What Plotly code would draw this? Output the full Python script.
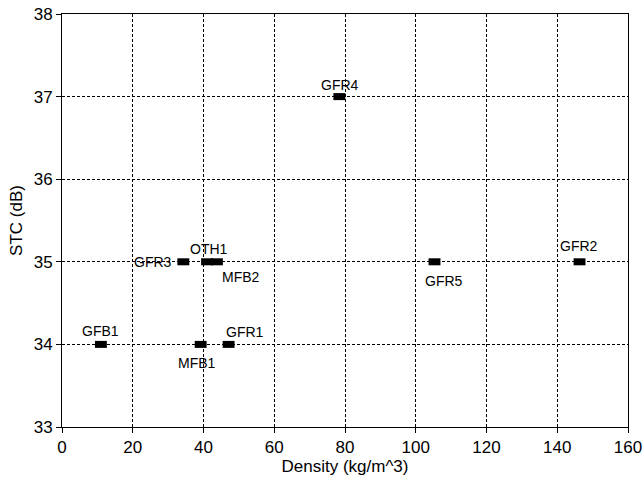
import plotly.graph_objects as go

names = ["GFB1", "MFB1", "GFR1", "GFR3", "OTH1", "MFB2", "GFR4", "GFR5", "GFR2"]
density = [11.0, 39.2, 47.1, 34.3, 41.0, 43.8, 78.4, 105.3, 146.3]
stc = [34, 34, 34, 35, 35, 35, 37, 35, 35]

x_ticks = [0, 20, 40, 60, 80, 100, 120, 140, 160]
y_ticks = [33, 34, 35, 36, 37, 38]

# label placement style (pixel offsets from marker)
label_style = {
    "GFB1": dict(xanchor="center", xshift=0, yshift=13),
    "MFB1": dict(xanchor="center", xshift=-4, yshift=-19),
    "GFR1": dict(xanchor="center", xshift=16, yshift=12),
    "GFR3": dict(xanchor="right", xshift=-9, yshift=0),
    "OTH1": dict(xanchor="center", xshift=2, yshift=13),
    "MFB2": dict(xanchor="center", xshift=24, yshift=-15),
    "GFR4": dict(xanchor="center", xshift=1, yshift=12),
    "GFR5": dict(xanchor="center", xshift=9, yshift=-19),
    "GFR2": dict(xanchor="center", xshift=-1, yshift=16),
}

font = "Liberation Sans, Arial, sans-serif"

fig = go.Figure()
fig.add_trace(go.Scatter(
    x=density, y=stc, mode="markers",
    marker=dict(symbol="line-ew", size=8.5, color="black",
                line=dict(color="black", width=7)),
    showlegend=False, cliponaxis=False, hoverinfo="skip",
))

for n, xv, yv in zip(names, density, stc):
    s = label_style[n]
    fig.add_annotation(x=xv, y=yv, text=n, showarrow=False,
                       xanchor=s["xanchor"], yanchor="middle",
                       xshift=s["xshift"], yshift=s["yshift"],
                       font=dict(family=font, size=14, color="black"))

axis_common = dict(
    showline=True, linecolor="black", linewidth=1, mirror=True,
    ticks="outside", ticklen=5, tickcolor="black", tickwidth=1,
    showgrid=True, gridcolor="black", gridwidth=1, griddash="3px,2px",
    zeroline=False, automargin=False, ticklabeloverflow="allow",
    tickfont=dict(family=font, size=17, color="black"),
)

fig.update_xaxes(range=[0, 160], tickvals=x_ticks, ticktext=[str(v) for v in x_ticks],
                 title=dict(text="Density (kg/m^3)", font=dict(family=font, size=17, color="black"), standoff=0),
                 **axis_common)
fig.update_yaxes(range=[33, 38], tickvals=y_ticks, ticktext=[str(v) for v in y_ticks],
                 title=dict(text="STC (dB)", font=dict(family=font, size=17, color="black"), standoff=6),
                 **axis_common)

fig.update_layout(
    width=644, height=477,
    margin=dict(l=62, r=16, t=14, b=50),
    paper_bgcolor="white", plot_bgcolor="white",
    font=dict(family=font, color="black"),
)

fig.write_html("out.html", config={"displayModeBar": False},
               post_script="document.body.style.margin='0';document.body.style.overflow='hidden';")
